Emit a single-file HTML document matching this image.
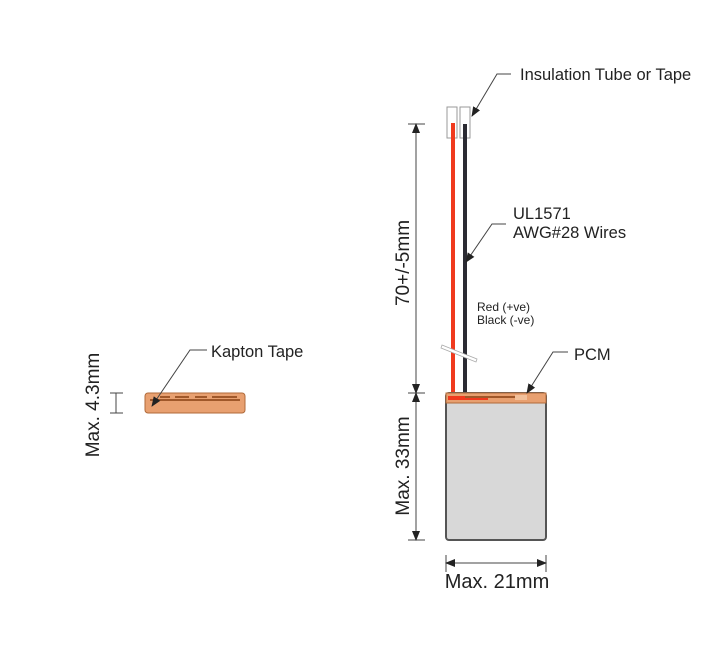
<!DOCTYPE html>
<html><head><meta charset="utf-8"><style>
html,body{margin:0;padding:0;background:#fff;}
svg{display:block;font-family:"Liberation Sans",Arial,sans-serif;}
</style></head><body>
<svg width="720" height="667" viewBox="0 0 720 667" xmlns="http://www.w3.org/2000/svg">
<defs>
<marker id="ar" markerWidth="10" markerHeight="10" refX="9" refY="5" orient="auto-start-reverse" markerUnits="userSpaceOnUse">
<path d="M0,1 L10,5 L0,9 Z" fill="#222"/></marker>
</defs>
<rect x="447" y="107" width="10" height="31" fill="#fff" stroke="#999" stroke-width="1"/>
<rect x="460" y="107" width="10" height="31" fill="#fff" stroke="#999" stroke-width="1"/>
<rect x="451" y="123" width="4" height="274" fill="#f03a1e"/>
<rect x="463" y="124" width="4" height="271" fill="#2b2b33"/>
<polygon points="442,345 477,359 476,362 441,348" fill="#fff" stroke="#aaa" stroke-width="0.8"/>
<rect x="446" y="393" width="100" height="147" rx="3" fill="#d8d8d8" stroke="#555" stroke-width="2"/>
<rect x="446" y="393" width="100" height="10" fill="#e8a070" stroke="#b06a3a" stroke-width="1"/>
<rect x="448" y="396" width="40" height="4" fill="#f03a1e"/>
<rect x="465" y="396" width="60" height="2" fill="#a0582a"/>
<rect x="515" y="395" width="12" height="5" fill="#f2c09a"/>
<rect x="145" y="393" width="100" height="20" rx="3" fill="#e8a070" stroke="#b06a3a" stroke-width="1"/>
<rect x="160" y="396" width="10" height="2" fill="#a0582a"/>
<rect x="175" y="396" width="14" height="2" fill="#a0582a"/>
<rect x="195" y="396" width="12" height="2" fill="#a0582a"/>
<rect x="212" y="396" width="25" height="2" fill="#a0582a"/>
<rect x="150" y="399" width="90" height="2" fill="#a0582a"/>
<g stroke="#444" stroke-width="1">
<line x1="110" y1="393" x2="123" y2="393"/><line x1="110" y1="413" x2="123" y2="413"/>
<line x1="116" y1="393" x2="116" y2="413"/>
</g>
<text transform="translate(99,405) rotate(-90)" text-anchor="middle" font-size="19" fill="#222">Max. 4.3mm</text>
<g stroke="#444" stroke-width="1">
<line x1="408" y1="124" x2="425" y2="124"/><line x1="408" y1="393" x2="425" y2="393"/><line x1="408" y1="540" x2="425" y2="540"/>
<line x1="416" y1="124" x2="416" y2="393" marker-start="url(#ar)" marker-end="url(#ar)"/>
<line x1="416" y1="393" x2="416" y2="540" marker-start="url(#ar)" marker-end="url(#ar)"/>
<line x1="446" y1="555" x2="446" y2="572"/><line x1="546" y1="555" x2="546" y2="572"/>
<line x1="446" y1="563" x2="546" y2="563" marker-start="url(#ar)" marker-end="url(#ar)"/>
</g>
<text transform="translate(409,263) rotate(-90)" text-anchor="middle" font-size="19" fill="#222">70+/-5mm</text>
<text transform="translate(409,466) rotate(-90)" text-anchor="middle" font-size="19" fill="#222">Max. 33mm</text>
<text x="497" y="588" text-anchor="middle" font-size="20" fill="#222">Max. 21mm</text>
<g stroke="#444" stroke-width="1" fill="none">
<polyline points="511,74 497,74 472,116" marker-end="url(#ar)"/>
<polyline points="506,224 492,224 466,262" marker-end="url(#ar)"/>
<polyline points="568,352 553,352 527,393" marker-end="url(#ar)"/>
<polyline points="207,350 190,350 152,406" marker-end="url(#ar)"/>
</g>
<g fill="#222">
<text x="520" y="80" font-size="16.5">Insulation Tube or Tape</text>
<text x="513" y="219" font-size="16.5">UL1571</text>
<text x="513" y="238" font-size="16.5">AWG#28 Wires</text>
<text x="477" y="311" font-size="12">Red (+ve)</text>
<text x="477" y="324" font-size="12">Black (-ve)</text>
<text x="574" y="360" font-size="16.5">PCM</text>
<text x="211" y="357" font-size="16.5">Kapton Tape</text>
</g>
</svg>
</body></html>
